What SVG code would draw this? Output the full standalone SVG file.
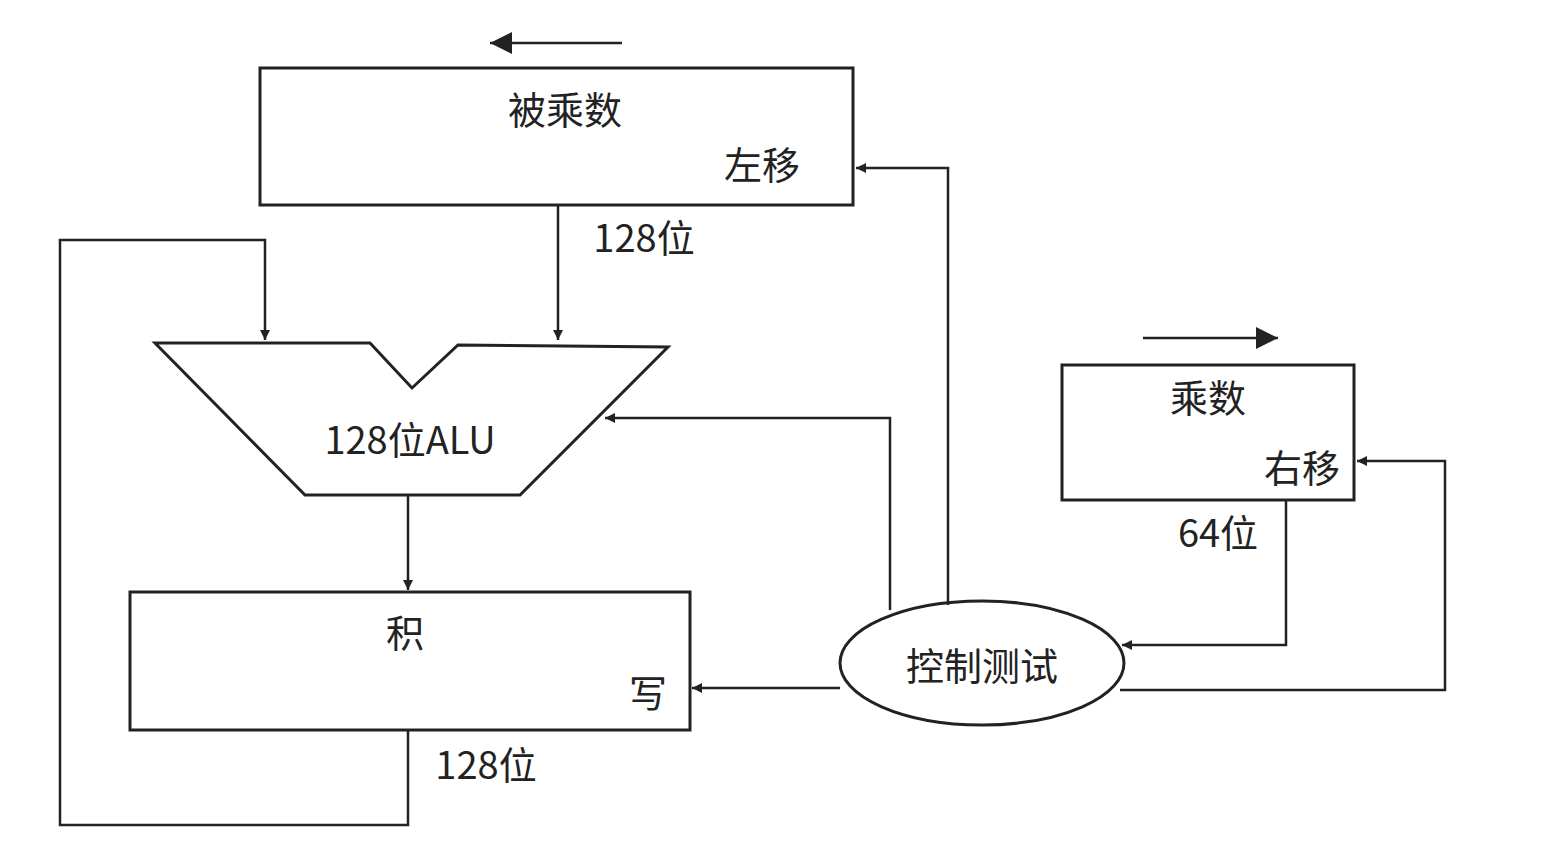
<svg xmlns="http://www.w3.org/2000/svg" width="1548" height="852" viewBox="0 0 1548 852">
<defs>
<style>
.b{fill:none;stroke:#222;stroke-width:3}
.l{fill:none;stroke:#222;stroke-width:2.5}
text{font-family:"Noto Sans CJK SC","Liberation Sans",sans-serif;font-size:38px;fill:#222;text-anchor:middle;dominant-baseline:central}
</style>
<marker id="a" viewBox="0 0 10 10" refX="10" refY="5" markerWidth="14" markerHeight="10" markerUnits="userSpaceOnUse" orient="auto"><path d="M0,0L10,5L0,10z" fill="#222"/></marker>
<marker id="A" viewBox="0 0 10 10" refX="10" refY="5" markerWidth="34" markerHeight="22" markerUnits="userSpaceOnUse" orient="auto"><path d="M0,0L10,5L0,10z" fill="#222"/></marker>
</defs>
<rect width="1548" height="852" fill="#fff"/>
<g id="multiplicand"><rect class="b" x="260" y="68" width="593" height="137"/><text x="565" y="107">被乘数</text><text x="762" y="162">左移</text></g>
<g id="alu"><path class="b" d="M155,343 L370,343 L412,388 L458,345 L668,347 L520,495 L305,495 Z"/><text x="410" y="437">128位ALU</text></g>
<g id="product"><rect class="b" x="130" y="592" width="560" height="138"/><text x="405" y="630">积</text><text x="648" y="690">写</text></g>
<g id="multiplier"><rect class="b" x="1062" y="365" width="292" height="135"/><text x="1208" y="395">乘数</text><text x="1302" y="465">右移</text></g>
<g id="control"><ellipse class="b" cx="982" cy="663" rx="142" ry="62"/><text x="982" y="663">控制测试</text></g>
<g id="connectors">
<line class="l" x1="622" y1="43" x2="490" y2="43" marker-end="url(#A)"/>
<line class="l" x1="1143" y1="338" x2="1278" y2="338" marker-end="url(#A)"/>
<path class="l" d="M558,205 V340" marker-end="url(#a)"/>
<path class="l" d="M408,730 V825 H60 V240 H265 V340" marker-end="url(#a)"/>
<path class="l" d="M408,495 V590" marker-end="url(#a)"/>
<path class="l" d="M890,610 V418 H605" marker-end="url(#a)"/>
<path class="l" d="M948,605 V168 H856" marker-end="url(#a)"/>
<path class="l" d="M840,688 H692" marker-end="url(#a)"/>
<path class="l" d="M1286,500 V645 H1122" marker-end="url(#a)"/>
<path class="l" d="M1120,690 H1445 V461 H1357" marker-end="url(#a)"/>
</g>
<text x="644" y="235">128位</text>
<text x="486" y="762">128位</text>
<text x="1218" y="530">64位</text>
</svg>
